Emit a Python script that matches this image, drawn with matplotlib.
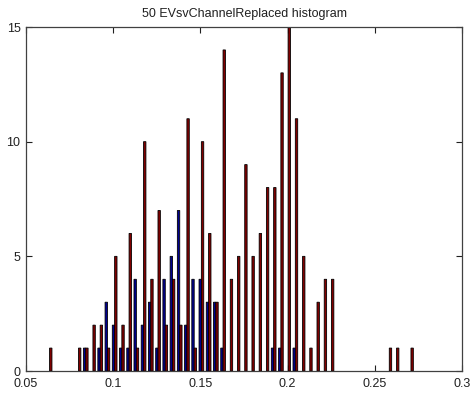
import numpy as np
import matplotlib
matplotlib.use("Agg")
import matplotlib.pyplot as plt

plt.rcParams['font.family'] = ['Liberation Sans', 'DejaVu Sans']

# bin centres (51 bins)
first_center = 0.06353
last_center = 0.27076
n_bins = 51

# counts per bin, series 1 (dark blue) and series 2 (dark red)
blue_counts = [0, 0, 0, 0, 0, 1, 0, 1, 3, 2,
               1, 1, 4, 2, 3, 1, 4, 5, 7, 2,
               4, 4, 3, 3, 1, 0, 0, 0, 0, 0,
               0, 1, 1, 0, 1, 0, 0, 0, 0, 0,
               0, 0, 0, 0, 0, 0, 0, 0, 0, 0,
               0]
red_counts = [1, 0, 0, 0, 1, 1, 2, 2, 1, 5,
              2, 6, 1, 10, 4, 7, 2, 4, 2, 11,
              1, 10, 6, 3, 14, 4, 5, 9, 5, 6,
              8, 8, 13, 15, 11, 5, 1, 3, 4, 4,
              0, 0, 0, 0, 0, 0, 0, 1, 1, 0,
              1]

title_text = "50 EVsvChannelReplaced histogram"
x_ticks = [0.05, 0.1, 0.15, 0.2, 0.25, 0.3]
x_tick_labels = ["0.05", "0.1", "0.15", "0.2", "0.25", "0.3"]
y_ticks = [0, 5, 10, 15]

centers = np.linspace(first_center, last_center, n_bins)
step = centers[1] - centers[0]

fig = plt.figure(figsize=(4.72, 3.96), dpi=100)
ax = fig.add_axes([0.0551, 0.0631, 0.9237, 0.8687])

bw = 0.33 * step
off = 0.16 * step
for xs, counts, col in [(centers - off, blue_counts, (0, 0, 0.5625)),
                        (centers + off, red_counts, (0.5, 0, 0))]:
    bars = ax.bar(xs, counts, width=bw, color=col,
                  edgecolor='black', linewidth=0.6, zorder=2)
    for b, c in zip(bars, counts):
        b.set_snap(False)
        if c == 0:
            # empty bin: nothing drawn (like matlab)
            b.set_visible(False)

ax.set_xlim(0.05, 0.3)
ax.set_ylim(0, 15)
ax.set_xticks(x_ticks)
ax.set_xticklabels(x_tick_labels)
ax.set_yticks(y_ticks)
ax.tick_params(direction='in', length=4, width=0.8, top=True, right=True,
               labelsize=9, colors='#202020')
ax.tick_params(axis='x', pad=5)
ax.tick_params(axis='y', pad=4)
for s in ax.spines.values():
    s.set_color('#404040')
    s.set_linewidth(0.9)

ax.set_title(title_text, fontsize=9, pad=7, color='#202020')

fig.savefig("out.png", dpi=100, facecolor='white')
